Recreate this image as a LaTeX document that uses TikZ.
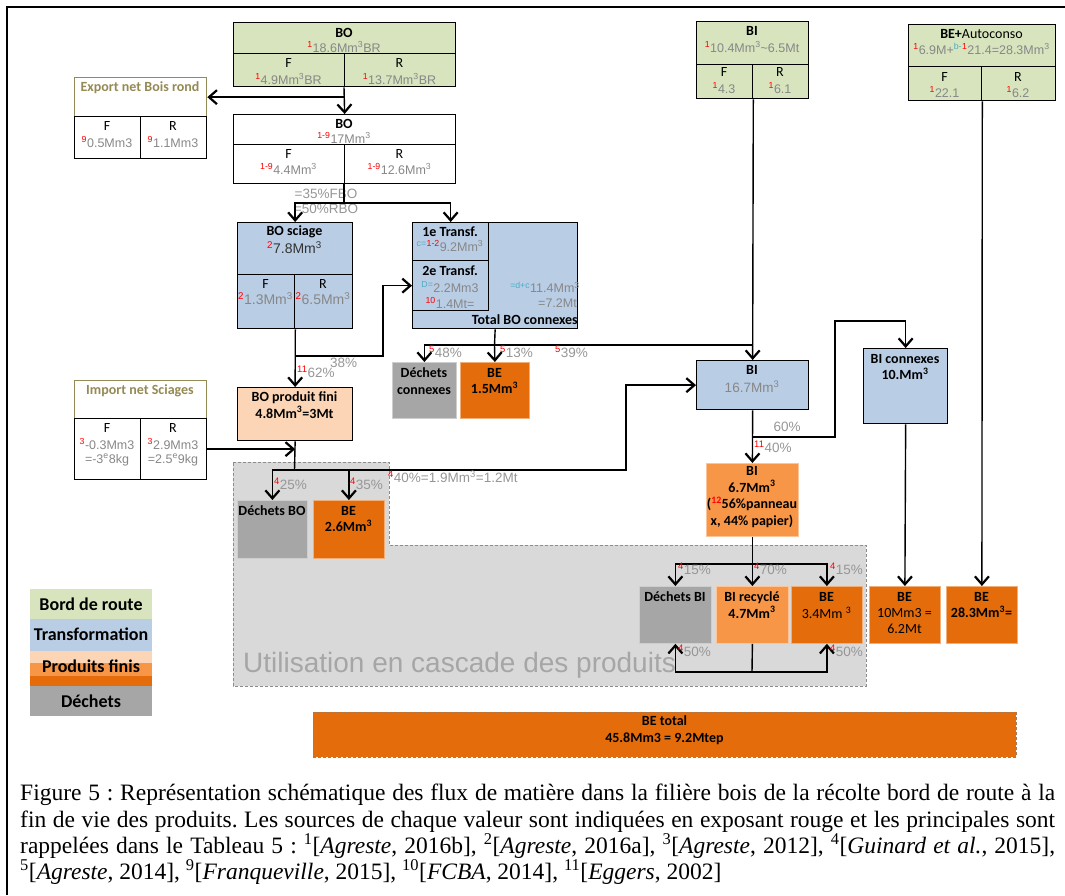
\documentclass[tikz,border=0pt]{standalone}
\usepackage{fontspec}
\setmainfont{Liberation Serif}
\newfontfamily\calibri{Carlito}
\newfontfamily\arialf{Liberation Sans}
\usetikzlibrary{arrows.meta}

% red source number, cyan formula letters, cube exponent
\newcommand{\src}[1]{\textsuperscript{\textcolor{srcRed}{#1}}}
\newcommand{\frm}[1]{\textsuperscript{\textcolor{frmCyan}{#1}}}
\newcommand{\mcube}{\textsuperscript{3}}

\begin{document}
\begin{tikzpicture}[x=1pt, y=-1pt, >={Straight Barb[length=8pt, width=14pt, line width=2.2pt]}]
  \useasboundingbox (0,0) rectangle (1065,895);

  % ==========================================
  % 1. COLOURS & STYLES
  % ==========================================
  \definecolor{bordGreen}{RGB}{215, 228, 189}  % bord de route
  \definecolor{transBlue}{RGB}{185, 205, 229}  % transformation
  \definecolor{finiPeach}{RGB}{251, 213, 181}  % produit fini
  \definecolor{biLight}{RGB}{247, 150, 70}     % produits (clair)
  \definecolor{beDark}{RGB}{228, 108, 10}      % bois energie
  \definecolor{dechGray}{RGB}{166, 166, 166}   % dechets
  \definecolor{cascGray}{RGB}{217, 217, 217}
  \definecolor{cascEdge}{RGB}{140, 140, 140}
  \definecolor{cascText}{RGB}{166, 166, 166}
  \definecolor{oliveText}{RGB}{148, 138, 84}
  \definecolor{beEdge}{RGB}{170, 120, 80}
  \definecolor{valGray}{RGB}{135, 135, 135}
  \definecolor{pctGray}{RGB}{150, 150, 150}
  \definecolor{srcRed}{RGB}{255, 0, 0}
  \definecolor{frmCyan}{RGB}{75, 172, 198}

  \tikzset{
    sz/.style 2 args={minimum width=#1pt, minimum height=#2pt},
    cell/.style={draw, line width=1.3pt, anchor=north west, inner sep=0pt},
    bord/.style={cell, fill=bordGreen},
    trans/.style={cell, fill=transBlue},
    olivebox/.style={cell, draw=oliveText, fill=white},
    prod/.style={anchor=north west, inner sep=0pt, line width=0.8pt, fill=#1, draw=#1!55!white},
    legrow/.style={anchor=north west, inner sep=0pt},
    hd/.style={font=\calibri\bfseries\fontsize{14}{16.5}\selectfont, align=center, inner sep=0pt},
    rg/.style={font=\calibri\fontsize{14}{16.5}\selectfont, align=center, inner sep=0pt},
    vl/.style={font=\arialf\fontsize{12.5}{15}\selectfont, text=valGray, inner sep=0pt},
    vlbig/.style={vl, font=\arialf\fontsize{14}{16}\selectfont},
    pc/.style={font=\arialf\fontsize{13.5}{15}\selectfont, text=pctGray, inner sep=0pt, anchor=west},
    lg/.style={font=\calibri\bfseries\fontsize{18}{20}\selectfont, inner sep=0pt},
    link/.style={line width=1.4pt},
    flow/.style={link, ->}
  }

  % outer frame (only left and top edges fall inside)
  \draw[line width=1.5pt] (7,895) -- (7,7) -- (1065,7);

  % ==========================================
  % 2. CASCADE AREA (behind everything)
  % ==========================================
  \draw[fill=cascGray, draw=cascEdge, line width=1pt, dash pattern=on 3pt off 2pt]
    (233,462) -- (389,462) -- (389,545) -- (866,545) -- (866,686) -- (233,686) -- cycle;
  \node[font=\arialf\fontsize{28}{30}\selectfont, text=cascText, anchor=west, inner sep=0pt]
    (cascLbl) at (243,665) {Utilisation en cascade des produits};

  % ==========================================
  % 3. BOIS D'OEUVRE
  % ==========================================
  \node[bord, sz={222}{31}] (bo0) at (233,22) {};
  \node[bord, sz={111}{33}] (bo0F) at (233,53) {};
  \node[bord, sz={111}{33}] (bo0R) at (344,53) {};
  \node[hd] (bo0T) at (344,33) {BO};
  \node[vl] (bo0V) at (344,47) {\src{1}18.6Mm\mcube BR};
  \node[rg] (bo0FT) at (288.5,63) {F};
  \node[vl] (bo0FV) at (288.5,79) {\src{1}4.9Mm\mcube BR};
  \node[rg] (bo0RT) at (399.5,63) {R};
  \node[vl] (bo0RV) at (399.5,79) {\src{1}13.7Mm\mcube BR};

  % export of round wood
  \node[olivebox, sz={132}{39}] (exp) at (74,77) {};
  \node[cell, sz={66}{42}] (expF) at (74,116) {};
  \node[cell, sz={66}{42}] (expR) at (140,116) {};
  \node[hd, text=oliveText] (expT) at (140,88) {Export net Bois rond};
  \node[rg] (expFT) at (107,126) {F};
  \node[vl] (expFV) at (107,142) {\src{9}0.5Mm3};
  \node[rg] (expRT) at (173,126) {R};
  \node[vl] (expRV) at (173,142) {\src{9}1.1Mm3};

  \node[cell, fill=white, sz={222}{30}] (bo1) at (233,114) {};
  \node[cell, sz={111}{39}] (bo1F) at (233,144) {};
  \node[cell, sz={111}{39}] (bo1R) at (344,144) {};
  \node[hd] (bo1T) at (344,124) {BO};
  \node[vl] (bo1V) at (344,138) {\src{1-9}17Mm\mcube};
  \node[rg] (bo1FT) at (288.5,154) {F};
  \node[vl] (bo1FV) at (288.5,169) {\src{1-9}4.4Mm\mcube};
  \node[rg] (bo1RT) at (399.5,154) {R};
  \node[vl] (bo1RV) at (399.5,169) {\src{1-9}12.6Mm\mcube};

  \node[pc, anchor=center] (fboLbl) at (326,194) {=35\%FBO};
  \node[pc, anchor=center] (rboLbl) at (326,209) {=50\%RBO};

  % sawmill
  \node[trans, sz={115}{52}] (sciage) at (237,222) {};
  \node[trans, sz={57}{54}] (sciageF) at (237,274) {};
  \node[trans, sz={58}{54}] (sciageR) at (294,274) {};
  \node[hd] (sciageT) at (294.5,232) {BO sciage};
  \node[vlbig, text=black!80] (sciageV) at (294.5,248) {\src{2}7.8Mm\mcube};
  \node[rg] (sciageFT) at (265.5,284) {F};
  \node[vlbig] (sciageFV) at (265.5,299) {\src{2}1.3Mm\mcube};
  \node[rg] (sciageRT) at (323,284) {R};
  \node[vlbig] (sciageRV) at (323,299) {\src{2}6.5Mm\mcube};

  % first and second transformation
  \node[trans, sz={165}{106}] (trAll) at (412,222) {};
  \node[trans, sz={76}{38}] (tr1) at (412,222) {};
  \node[trans, sz={76}{50}] (tr2) at (412,260) {};
  \node[hd] (tr1T) at (450,232) {1e Transf.};
  \node[vl] (tr1V) at (450,246) {\frm{c=}\src{1-2}9.2Mm\mcube};
  \node[hd] (tr2T) at (450,271) {2e Transf.};
  \node[vl] (tr2V) at (450,287) {\frm{D=}2.2Mm3};
  \node[vl] (tr2W) at (450,303) {\src{10}1.4Mt=};
  \node[vl, anchor=east] (trAllV) at (580,287) {\frm{=d+c}11.4Mm\mcube};
  \node[vl, anchor=east] (trAllW) at (577,303) {=7.2Mt};
  \node[hd, anchor=east] (trAllT) at (578,320) {Total BO connexes};

  \node[prod=dechGray, sz={64}{56}] (dechCon) at (392,362) {};
  \node[hd] (dechConT) at (424,381) {Déchets\\connexes};
  \node[prod=beDark, sz={69}{56}] (beCon) at (460,362) {};
  \node[hd] (beConT) at (494.5,381) {BE\\1.5Mm\mcube};

  % finished product and imports
  \node[cell, fill=finiPeach, sz={115}{53}] (fini) at (237,387) {};
  \node[hd] (finiT) at (294.5,405) {BO produit fini\\4.8Mm\mcube=3Mt};

  \node[olivebox, sz={132}{38}] (imp) at (74,380) {};
  \node[cell, sz={66}{61}] (impF) at (74,418) {};
  \node[cell, sz={66}{61}] (impR) at (140,418) {};
  \node[hd, text=oliveText] (impT) at (140,391) {Import net Sciages};
  \node[rg] (impFT) at (107,428) {F};
  \node[vl] (impFV) at (107,444) {\src{3}-0.3Mm3};
  \node[vl] (impFW) at (107,460) {=-3\textsuperscript{e}8kg};
  \node[rg] (impRT) at (173,428) {R};
  \node[vl] (impRV) at (173,444) {\src{3}2.9Mm3};
  \node[vl] (impRW) at (173,460) {=2.5\textsuperscript{e}9kg};

  \node[prod=dechGray, sz={70}{58}] (dechBO) at (237,500) {};
  \node[hd] (dechBOT) at (272,511) {Déchets BO};
  \node[prod=beDark, sz={71}{58}] (beBO) at (313,500) {};
  \node[hd] (beBOT) at (348.5,519) {BE\\2.6Mm\mcube};

  % ==========================================
  % 4. BOIS D'INDUSTRIE & BOIS ENERGIE
  % ==========================================
  \node[bord, sz={112}{43}] (biTop) at (696,21) {};
  \node[bord, sz={56}{34}] (biTopF) at (696,64) {};
  \node[bord, sz={56}{34}] (biTopR) at (752,64) {};
  \node[hd] (biTopT) at (752,31) {BI};
  \node[vl] (biTopV) at (752,47) {\src{1}10.4Mm\mcube\textasciitilde6.5Mt};
  \node[rg] (biTopFT) at (724,72) {F};
  \node[vl] (biTopFV) at (724,88) {\src{1}4.3};
  \node[rg] (biTopRT) at (780,72) {R};
  \node[vl] (biTopRV) at (780,88) {\src{1}6.1};

  \node[bord, sz={147}{42}] (beAuto) at (908,24) {};
  \node[bord, sz={73}{34}] (beAutoF) at (908,66) {};
  \node[bord, sz={74}{34}] (beAutoR) at (981,66) {};
  \node[rg] (beAutoT) at (981.5,34) {\textbf{BE+}Autoconso};
  \node[vl] (beAutoV) at (981.5,49) {\src{1}6.9M+\frm{b-}\src{1}21.4=28.3Mm\mcube};
  \node[rg] (beAutoFT) at (944.5,77) {F};
  \node[vl] (beAutoFV) at (944.5,92) {\src{1}22.1};
  \node[rg] (beAutoRT) at (1018,77) {R};
  \node[vl] (beAutoRV) at (1018,92) {\src{1}6.2};

  \node[trans, sz={112}{49}] (biMid) at (696,360) {};
  \node[hd] (biMidT) at (752,370) {BI};
  \node[vl, font=\arialf\fontsize{13.5}{15}\selectfont] (biMidV) at (752,387) {16.7Mm\mcube};

  \node[trans, sz={84}{75}] (biCon) at (863,348) {};
  \node[hd] (biConT) at (905,367) {BI connexes\\10.Mm\mcube};

  \node[prod=biLight, sz={92}{73}] (biPan) at (706,463) {};
  \node[hd] (biPanT) at (752,497) {BI\\6.7Mm\mcube\\(\src{12}56\%panneau\\x, 44\% papier)};

  \node[prod=dechGray, sz={72}{57}] (dechBI) at (639,586) {};
  \node[hd] (dechBIT) at (675,597) {Déchets BI};
  \node[prod=biLight, sz={72}{57}] (biRec) at (716,586) {};
  \node[hd] (biRecT) at (752,605) {BI recyclé\\4.7Mm\mcube};
  \node[prod=beDark, sz={71}{57}] (beBI) at (791,586) {};
  \node[hd] (beBIT) at (826.5,597) {BE};
  \node[rg] (beBIV) at (826.5,613) {3.4Mm \mcube};

  \node[prod=beDark, sz={71}{57}] (beTen) at (869,586) {};
  \node[hd] (beTenT) at (904.5,597) {BE};
  \node[rg] (beTenV) at (904.5,621) {10Mm3 =\\6.2Mt};
  \node[prod=beDark, sz={71}{57}] (beAut) at (946,586) {};
  \node[hd] (beAutT) at (981.5,605) {BE\\28.3Mm\mcube=};

  \node[prod=beDark, draw=beEdge, dash pattern=on 3pt off 2pt, sz={703}{45}] (beTot) at (313,712) {};
  \node[hd] (beTotT) at (664.5,730) {BE total\\45.8Mm3 = 9.2Mtep};

  % ==========================================
  % 5. FLOWS
  % ==========================================
  \coordinate (split) at (344,203);
  \coordinate (j38) at (294.5,356);
  \coordinate (k38) at (383,356);
  \coordinate (jTot) at (494.5,345);
  \coordinate (jFini) at (294.5,470);
  \coordinate (j40) at (626,470);
  \coordinate (j60) at (752,437);
  \coordinate (k60) at (835,321);
  \coordinate (jPan) at (752,564);
  \coordinate (jRec) at (752,672);

  \draw[flow] (bo0R.south west) -- (bo1.north);
  \draw[flow] (bo0R.south west |- exp.east) -- (exp.east);
  \draw[link] (bo1R.south west) -- (split);
  \draw[flow] (split) -| (sciage.north);
  \draw[flow] (split) -| (tr1.north);

  \draw[flow] (sciageF.south east) -- (fini.north);
  \draw[flow] (j38) -- (k38) |- (tr2.west);

  \draw[link] (trAll.south) -- (jTot);
  \draw[flow] (jTot) -| (dechCon.north);
  \draw[flow] (jTot) -- (beCon.north);
  \draw[link] (jTot) -- (jTot -| biMid.north);

  \draw[flow] (impR.east) -- (impR.east -| fini.south);
  \draw[link] (fini.south) -- (jFini);
  \draw[flow] (jFini) -| (dechBO.north);
  \draw[flow] (jFini) -| (beBO.north);
  \draw[flow] (jFini) -- (j40) |- (biMid.west);

  \draw[flow] (biTopF.south east) -- (biMid.north);
  \draw[flow] (biMid.south) -- (biPan.north);
  \draw[flow] (j60) -| (k60) -| (biCon.north);
  \draw[flow] (biCon.south) -- (beTen.north);
  \draw[flow] (beAutoF.south east) -- (beAut.north);

  \draw[flow] (biPan.south) -- (biRec.north);
  \draw[flow] (jPan) -| (dechBI.north);
  \draw[flow] (jPan) -| (beBI.north);
  \draw[link] (biRec.south) -- (jRec);
  \draw[flow] (jRec) -| (dechBI.south);
  \draw[flow] (jRec) -| (beBI.south);

  % shares along the flows
  \node[pc] (p62) at (297,372) {\src{11}62\%};
  \node[pc] (p38) at (330,363) {38\%};
  \node[pc] (p48) at (429,352) {\src{5}48\%};
  \node[pc] (p13) at (500,352) {\src{5}13\%};
  \node[pc] (p39) at (555,352) {\src{5}39\%};
  \node[pc] (p25) at (274,484) {\src{4}25\%};
  \node[pc] (p35) at (350,484) {\src{4}35\%};
  \node[pc] (p40) at (388,477) {\src{4}40\%=1.9Mm\mcube=1.2Mt};
  \node[pc, anchor=center] (p60) at (787,427) {60\%};
  \node[pc] (p40b) at (754,447) {\src{11}40\%};
  \node[pc] (p15a) at (678,569) {\src{4}15\%};
  \node[pc] (p70) at (754,569) {\src{4}70\%};
  \node[pc] (p15b) at (830,569) {\src{4}15\%};
  \node[pc] (p50a) at (678,651) {\src{4}50\%};
  \node[pc] (p50b) at (830,651) {\src{4}50\%};

  % ==========================================
  % 6. LEGEND & CAPTION
  % ==========================================
  \node[legrow, fill=bordGreen, sz={122}{30}] (legBord) at (30,589) {};
  \node[legrow, fill=transBlue, sz={122}{32}] (legTrans) at (30,619) {};
  \node[legrow, fill=finiPeach, sz={122}{12}] (legFini) at (30,651) {};
  \node[legrow, fill=biLight, sz={122}{13}] (legBi) at (30,663) {};
  \node[legrow, fill=beDark, sz={122}{10}] (legBe) at (30,676) {};
  \node[legrow, fill=dechGray, sz={122}{30}] (legDech) at (30,686) {};
  \node[lg] (legBordT) at (91,604) {Bord de route};
  \node[lg] (legTransT) at (91,634) {Transformation};
  \node[lg] (legFiniT) at (91,666) {Produits finis};
  \node[lg] (legDechT) at (91,701) {Déchets};

  \node[anchor=north west, inner sep=0pt, text width=1035pt, align=justify,
        font=\fontsize{23.5}{26.4}\selectfont\frenchspacing] (caption) at (20,784)
    {Figure 5 : Représentation schématique des flux de matière dans la filière bois de la récolte bord de route à la\linebreak
     fin de vie des produits. Les sources de chaque valeur sont indiquées en exposant rouge et les principales sont\linebreak
     rappelées dans le Tableau 5 : \textsuperscript{1}[\textit{Agreste}, 2016b], \textsuperscript{2}[\textit{Agreste}, 2016a], \textsuperscript{3}[\textit{Agreste}, 2012], \textsuperscript{4}[\textit{Guinard et al.}, 2015],\linebreak
     \textsuperscript{5}[\textit{Agreste}, 2014], \textsuperscript{9}[\textit{Franqueville}, 2015], \textsuperscript{10}[\textit{FCBA}, 2014], \textsuperscript{11}[\textit{Eggers}, 2002]};

\end{tikzpicture}
\end{document}
